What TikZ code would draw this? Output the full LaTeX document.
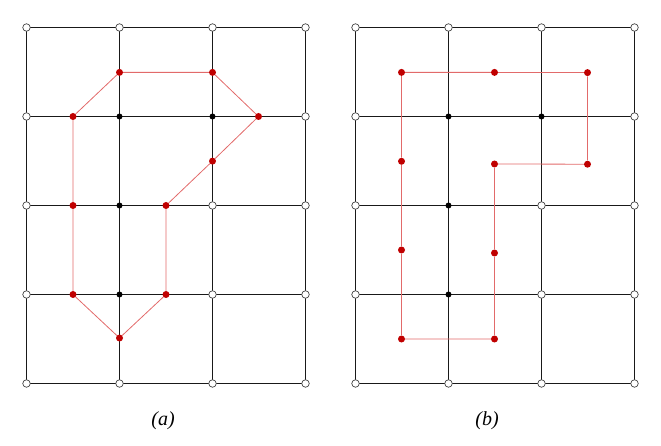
\documentclass[tikz,border=0pt]{standalone}
\usepackage{fontspec}
\setmainfont{Liberation Serif}
\definecolor{redline}{HTML}{E26A6A}
\definecolor{reddot}{HTML}{C00000}
\begin{document}
\begin{tikzpicture}[x=1pt,y=-1pt,
  gridline/.style={line width=1.6pt, black!90},
  openv/.style={circle, draw=black!75, fill=white, inner sep=0pt, minimum size=7.5pt, line width=0.7pt},
  blackv/.style={circle, fill=black, inner sep=0pt, minimum size=6pt},
  rdot/.style={circle, fill=reddot, inner sep=0pt, minimum size=7pt},
  rline/.style={draw=redline, line width=0.8pt},
  caption/.style={font=\fontsize{20}{24}\selectfont\itshape}]
\useasboundingbox (0,0) rectangle (661,446);
\foreach \g/\ox in {L/26.5,R/355.5}{
  \foreach \i in {0,...,3}{
    \foreach \j/\yy in {0/27.5,1/116.5,2/205.5,3/294.5,4/383.5}{
      \coordinate (\g\i\j) at ({\ox+93*\i},\yy);
    }
  }
  \foreach \j in {0,...,4}{
    \foreach \i [evaluate=\i as \k using int(\i+1)] in {0,1,2}{
      \draw[gridline] (\g\i\j) -- (\g\k\j);
    }
  }
  \foreach \i in {0,...,3}{
    \foreach \j [evaluate=\j as \k using int(\j+1)] in {0,1,2,3}{
      \draw[gridline] (\g\i\j) -- (\g\i\k);
    }
  }
  \foreach \i/\j in {0/0,0/1,0/2,0/3,0/4,3/0,3/1,3/2,3/3,3/4,1/0,2/0,1/4,2/4,2/2,2/3}{
    \node[openv] (v\g\i\j) at (\g\i\j) {};
  }
  \foreach \i/\j in {1/1,2/1,1/2,1/3}{
    \node[blackv] (v\g\i\j) at (\g\i\j) {};
  }
}
% left polygon
\node[rdot] (a1) at (119.5,72.4) {};
\node[rdot] (a2) at (212.5,72.4) {};
\node[rdot] (a3) at (258.5,116.5) {};
\node[rdot] (a4) at (212.5,161.1) {};
\node[rdot] (a5) at (166,205.5) {};
\node[rdot] (a6) at (166,294.5) {};
\node[rdot] (a7) at (119.5,338) {};
\node[rdot] (a8) at (73,294.5) {};
\node[rdot] (a9) at (73,205.5) {};
\node[rdot] (a10) at (73,116.5) {};
\draw[rline] (a1) -- (a2) -- (a3) -- (a4) -- (a5) -- (a6) -- (a7) -- (a8) -- (a9) -- (a10) -- (a1);
% right path
\node[rdot] (b1) at (401.5,72.4) {};
\node[rdot] (b2) at (494.5,72.4) {};
\node[rdot] (b3) at (587.5,72.6) {};
\node[rdot] (b4) at (587.5,164.2) {};
\node[rdot] (b5) at (494.5,164) {};
\node[rdot] (b6) at (494.5,253) {};
\node[rdot] (b7) at (494.5,339) {};
\node[rdot] (b8) at (401.5,339) {};
\node[rdot] (b9) at (401.5,250) {};
\node[rdot] (b10) at (401.5,161.3) {};
\draw[rline] (b1) -- (b2) -- (b3) -- (b4) -- (b5) -- (b6) -- (b7) -- (b8) -- (b9) -- (b10) -- (b1);
\node[caption] (capa) at (163,421) {(a)};
\node[caption] (capb) at (487,421) {(b)};
\end{tikzpicture}
\end{document}
